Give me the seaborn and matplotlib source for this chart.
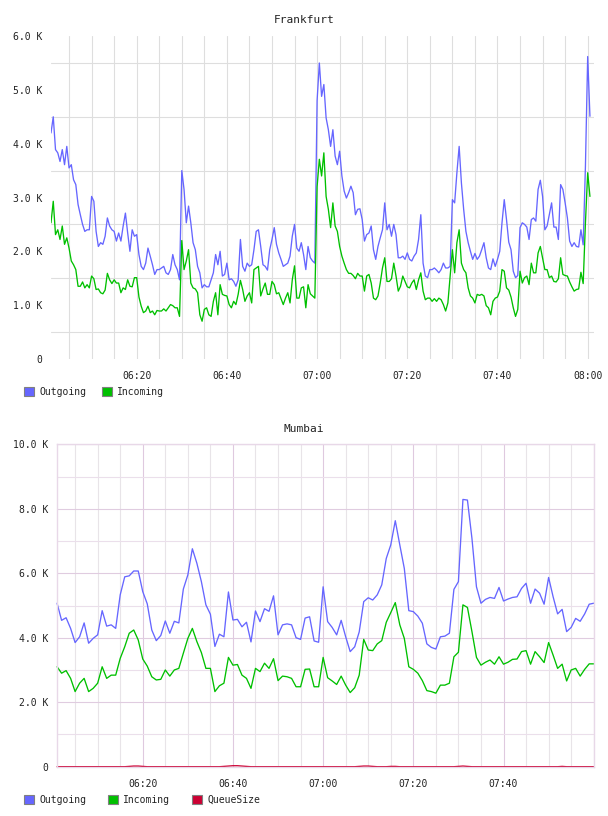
import pandas as pd
import matplotlib
matplotlib.use('Agg')
import matplotlib.pyplot as plt
import matplotlib.dates as mdates
from matplotlib.patches import Patch
from matplotlib.ticker import FuncFormatter, FixedLocator
import seaborn as sns

# 값은 K(천) 단위
day = '2015-06-01'

# Frankfurt : 30초 간격, 06:01 부터
fra_start = day + ' 06:01:00'
fra_step = '30s'
fra_outgoing = [
    4.20, 4.50, 3.89, 3.83, 3.67, 3.89, 3.61, 3.95, 3.55, 3.61,
    3.33, 3.24, 2.87, 2.68, 2.50, 2.37, 2.40, 2.40, 3.02, 2.93,
    2.37, 2.09, 2.16, 2.13, 2.28, 2.62, 2.47, 2.40, 2.37, 2.19,
    2.34, 2.19, 2.47, 2.71, 2.34, 2.00, 2.40, 2.28, 2.31, 1.94,
    1.72, 1.66, 1.78, 2.06, 1.91, 1.75, 1.57, 1.66, 1.66, 1.69,
    1.72, 1.60, 1.57, 1.66, 1.94, 1.75, 1.66, 1.47, 3.50, 3.15,
    2.53, 2.84, 2.53, 2.16, 2.03, 1.72, 1.60, 1.32, 1.38, 1.34,
    1.34, 1.47, 1.60, 1.94, 1.75, 2.00, 1.54, 1.57, 1.78, 1.47,
    1.49, 1.44, 1.35, 1.47, 2.22, 1.72, 1.63, 1.78, 1.72, 1.75,
    2.03, 2.37, 2.40, 2.09, 1.75, 1.72, 1.65, 2.03, 2.22, 2.44,
    2.13, 1.97, 1.85, 1.72, 1.75, 1.78, 1.91, 2.28, 2.50, 2.06,
    2.00, 2.16, 1.94, 1.66, 2.09, 1.88, 1.82, 1.78, 4.80, 5.50,
    4.88, 5.10, 4.48, 4.26, 3.95, 4.26, 3.77, 3.61, 3.86, 3.40,
    3.12, 2.99, 3.09, 3.21, 3.09, 2.68, 2.78, 2.79, 2.59, 2.19,
    2.31, 2.34, 2.47, 2.03, 1.85, 2.09, 2.25, 2.40, 2.90, 2.40,
    2.50, 2.28, 2.50, 2.31, 1.88, 1.88, 1.91, 1.85, 1.97, 1.85,
    1.82, 1.91, 1.97, 2.22, 2.68, 1.78, 1.54, 1.51, 1.66, 1.66,
    1.69, 1.65, 1.60, 1.66, 1.78, 1.69, 1.69, 1.72, 2.96, 2.90,
    3.46, 3.95, 3.27, 2.78, 2.37, 2.16, 2.00, 1.85, 1.96, 1.85,
    1.91, 2.03, 2.16, 1.88, 1.69, 1.66, 1.86, 1.72, 1.85, 2.00,
    2.53, 2.96, 2.59, 2.17, 2.03, 1.63, 1.51, 1.55, 2.44, 2.53,
    2.50, 2.45, 2.22, 2.59, 2.62, 2.56, 3.15, 3.32, 3.02, 2.40,
    2.47, 2.68, 2.90, 2.45, 2.45, 2.22, 3.24, 3.15, 2.90, 2.62,
    2.19, 2.09, 2.16, 2.09, 2.08, 2.40, 2.12, 3.58, 5.62, 4.51,
]
fra_incoming = [
    2.53, 2.93, 2.31, 2.40, 2.22, 2.47, 2.13, 2.25, 2.06, 1.82,
    1.75, 1.66, 1.35, 1.35, 1.43, 1.32, 1.38, 1.32, 1.54, 1.49,
    1.29, 1.30, 1.23, 1.21, 1.28, 1.59, 1.47, 1.40, 1.47, 1.41,
    1.41, 1.23, 1.32, 1.29, 1.47, 1.35, 1.34, 1.51, 1.51, 1.15,
    0.98, 0.86, 0.89, 0.98, 0.86, 0.89, 0.82, 0.90, 0.89, 0.89,
    0.93, 0.89, 0.95, 1.01, 0.99, 0.95, 0.95, 0.79, 2.20, 1.66,
    1.82, 2.03, 1.41, 1.32, 1.30, 1.23, 0.82, 0.70, 0.92, 0.95,
    0.82, 0.79, 1.07, 1.23, 0.82, 1.38, 1.20, 1.18, 1.17, 1.01,
    0.95, 1.07, 1.01, 1.20, 1.46, 1.29, 1.07, 1.17, 1.23, 1.04,
    1.66, 1.69, 1.72, 1.17, 1.30, 1.41, 1.20, 1.20, 1.44, 1.38,
    1.21, 1.23, 1.12, 1.01, 1.13, 1.23, 1.04, 1.47, 1.73, 1.13,
    1.13, 1.32, 1.34, 0.95, 1.38, 1.21, 1.17, 1.13, 3.20, 3.71,
    3.40, 3.83, 3.02, 2.78, 2.44, 2.90, 2.47, 2.37, 2.09, 1.91,
    1.78, 1.66, 1.59, 1.59, 1.55, 1.49, 1.59, 1.54, 1.54, 1.26,
    1.54, 1.57, 1.41, 1.13, 1.10, 1.17, 1.41, 1.69, 1.88, 1.44,
    1.44, 1.49, 1.78, 1.54, 1.26, 1.35, 1.54, 1.44, 1.34, 1.32,
    1.41, 1.47, 1.29, 1.47, 1.60, 1.26, 1.10, 1.13, 1.13, 1.07,
    1.12, 1.07, 1.13, 1.10, 1.01, 0.89, 1.04, 1.54, 2.03, 1.60,
    2.16, 2.40, 1.78, 1.66, 1.60, 1.32, 1.17, 1.13, 1.04, 1.20,
    1.18, 1.20, 1.17, 0.99, 0.95, 0.82, 1.07, 1.13, 1.15, 1.26,
    1.66, 1.63, 1.32, 1.28, 1.15, 0.95, 0.79, 0.92, 1.63, 1.41,
    1.51, 1.54, 1.38, 1.78, 1.60, 1.60, 1.97, 2.09, 1.88, 1.66,
    1.66, 1.51, 1.54, 1.44, 1.43, 1.49, 1.88, 1.57, 1.55, 1.54,
    1.43, 1.34, 1.26, 1.29, 1.30, 1.61, 1.40, 2.53, 3.46, 3.02,
]
fra_ticks = ['06:20', '06:40', '07:00', '07:20', '07:40', '08:00']

# Mumbai : 1분 간격, 06:01 부터
mum_start = day + ' 06:01:00'
mum_step = '1min'
mum_outgoing = [
    5.07, 4.54, 4.62, 4.29, 3.85, 4.03, 4.46, 3.83, 3.98, 4.09,
    4.84, 4.36, 4.40, 4.29, 5.33, 5.89, 5.92, 6.07, 6.07, 5.43,
    5.05, 4.24, 3.91, 4.07, 4.52, 4.14, 4.51, 4.46, 5.51, 5.95,
    6.76, 6.31, 5.74, 5.02, 4.73, 3.73, 4.11, 4.03, 5.42, 4.55,
    4.57, 4.34, 4.48, 3.87, 4.83, 4.50, 4.90, 4.82, 5.30, 4.09,
    4.40, 4.43, 4.40, 4.00, 3.95, 4.61, 4.65, 3.90, 3.86, 5.58,
    4.50, 4.32, 4.09, 4.54, 4.03, 3.57, 3.72, 4.18, 5.12, 5.24,
    5.17, 5.33, 5.64, 6.46, 6.88, 7.63, 6.88, 6.15, 4.84, 4.81,
    4.67, 4.45, 3.81, 3.70, 3.65, 4.03, 4.05, 4.14, 5.50, 5.74,
    8.29, 8.27, 7.08, 5.58, 5.07, 5.19, 5.25, 5.22, 5.56, 5.14,
    5.20, 5.25, 5.27, 5.53, 5.69, 5.07, 5.51, 5.38, 5.04, 5.87,
    5.27, 4.74, 4.88, 4.19, 4.32, 4.60, 4.51, 4.74, 5.04, 5.07,
]
mum_incoming = [
    3.10, 2.90, 2.98, 2.74, 2.33, 2.59, 2.74, 2.33, 2.43, 2.59,
    3.10, 2.74, 2.84, 2.84, 3.36, 3.72, 4.14, 4.24, 3.93, 3.34,
    3.12, 2.79, 2.69, 2.71, 3.00, 2.81, 3.00, 3.05, 3.52, 3.98,
    4.29, 3.88, 3.54, 3.05, 3.05, 2.33, 2.51, 2.59, 3.39, 3.15,
    3.17, 2.84, 2.74, 2.43, 3.05, 2.95, 3.21, 3.05, 3.35, 2.67,
    2.81, 2.79, 2.74, 2.48, 2.48, 3.02, 3.03, 2.48, 2.48, 3.39,
    2.76, 2.66, 2.55, 2.81, 2.53, 2.30, 2.45, 2.84, 3.95, 3.62,
    3.60, 3.81, 3.91, 4.48, 4.78, 5.09, 4.40, 3.98, 3.10, 3.02,
    2.90, 2.67, 2.36, 2.33, 2.28, 2.53, 2.53, 2.59, 3.41, 3.55,
    5.02, 4.94, 4.19, 3.39, 3.15, 3.24, 3.31, 3.18, 3.41, 3.18,
    3.24, 3.33, 3.34, 3.57, 3.60, 3.18, 3.57, 3.41, 3.23, 3.85,
    3.46, 3.05, 3.18, 2.66, 3.00, 3.05, 2.81, 3.02, 3.19, 3.19,
]
mum_queuesize = [
    0.00, 0.00, 0.00, 0.00, 0.00, 0.00, 0.00, 0.00, 0.00, 0.00,
    0.00, 0.00, 0.00, 0.00, 0.00, 0.00, 0.01, 0.02, 0.02, 0.01,
    0.00, 0.00, 0.00, 0.00, 0.00, 0.00, 0.00, 0.00, 0.00, 0.00,
    0.00, 0.00, 0.00, 0.00, 0.00, 0.00, 0.00, 0.01, 0.02, 0.03,
    0.03, 0.02, 0.01, 0.00, 0.00, 0.00, 0.00, 0.00, 0.00, 0.00,
    0.00, 0.00, 0.00, 0.00, 0.00, 0.00, 0.00, 0.00, 0.00, 0.00,
    0.00, 0.00, 0.00, 0.00, 0.00, 0.00, 0.00, 0.01, 0.02, 0.02,
    0.01, 0.00, 0.00, 0.00, 0.01, 0.01, 0.00, 0.00, 0.00, 0.00,
    0.00, 0.00, 0.00, 0.00, 0.00, 0.00, 0.00, 0.00, 0.00, 0.01,
    0.02, 0.01, 0.00, 0.00, 0.00, 0.00, 0.00, 0.00, 0.00, 0.00,
    0.00, 0.00, 0.00, 0.00, 0.00, 0.00, 0.00, 0.00, 0.00, 0.00,
    0.00, 0.00, 0.01, 0.00, 0.00, 0.00, 0.00, 0.00, 0.00, 0.00,
]
mum_ticks = ['06:20', '06:40', '07:00', '07:20', '07:40']

colors = {'Outgoing': '#6666ff', 'Incoming': '#00c000', 'QueueSize': '#cc0033'}


def make_frame(start, step, series):
    t = pd.date_range(start, periods=len(series[0][1]), freq=step)
    parts = [pd.DataFrame({'time': t, 'value': v, 'series': n}) for n, v in series]
    return pd.concat(parts, ignore_index=True)


fra = make_frame(fra_start, fra_step,
                 [('Outgoing', fra_outgoing), ('Incoming', fra_incoming)])
mum = make_frame(mum_start, mum_step,
                 [('Outgoing', mum_outgoing), ('Incoming', mum_incoming),
                  ('QueueSize', mum_queuesize)])

sns.set_style('white')
plt.rcParams['font.family'] = ['DejaVu Sans Mono']
plt.rcParams['font.size'] = 7
text_color = '#222222'


def k_fmt(v, pos):
    return '0' if abs(v) < 1e-9 else '%.1f K' % v


def to_num(labels):
    return [mdates.date2num(pd.Timestamp(day + ' ' + s).to_pydatetime()) for s in labels]


fig = plt.figure(figsize=(6.08, 8.16), dpi=100)
ax1 = fig.add_axes([51 / 608, 1 - 358.9 / 816, 543 / 608, 322.8 / 816])
ax2 = fig.add_axes([56.7 / 608, 1 - 766.7 / 816, 537 / 608, 322.4 / 816])

# Frankfurt
sns.lineplot(data=fra, x='time', y='value', hue='series', palette=colors,
             estimator=None, linewidth=0.95, legend=False, ax=ax1)
ax1.set_xlim(pd.Timestamp(day + ' 06:01:00'), pd.Timestamp(day + ' 08:01:24'))
ax1.set_ylim(0, 6)
ax1.set_xticks(to_num(fra_ticks))
ax1.set_xticklabels(fra_ticks)
ax1.xaxis.set_minor_locator(mdates.MinuteLocator(byminute=range(0, 60, 5)))
ax1.yaxis.set_major_locator(FixedLocator([0, 1, 2, 3, 4, 5, 6]))
ax1.yaxis.set_minor_locator(FixedLocator([0.5, 1.5, 2.5, 3.5, 4.5, 5.5]))
ax1.yaxis.set_major_formatter(FuncFormatter(k_fmt))
ax1.grid(False)
ax1.yaxis.grid(True, which='minor', color='#dedede', linewidth=0.8)
ax1.xaxis.grid(True, which='both', color='#dedede', linewidth=0.8)
for s in ax1.spines.values():
    s.set_visible(False)

# Mumbai
sns.lineplot(data=mum, x='time', y='value', hue='series', palette=colors,
             estimator=None, linewidth=0.95, legend=False, ax=ax2)
ax2.set_xlim(pd.Timestamp(day + ' 06:00:55'), pd.Timestamp(day + ' 08:00:00'))
ax2.set_ylim(0, 10)
ax2.set_xticks(to_num(mum_ticks))
ax2.set_xticklabels(mum_ticks)
ax2.xaxis.set_minor_locator(mdates.MinuteLocator(byminute=range(0, 60, 5)))
ax2.yaxis.set_major_locator(FixedLocator([0, 2, 4, 6, 8, 10]))
ax2.yaxis.set_minor_locator(FixedLocator([1, 3, 5, 7, 9]))
ax2.yaxis.set_major_formatter(FuncFormatter(k_fmt))
ax2.grid(False)
ax2.yaxis.grid(True, which='major', color='#e0cce0', linewidth=0.8)
ax2.yaxis.grid(True, which='minor', color='#ebdfeb', linewidth=0.8)
ax2.xaxis.grid(True, which='major', color='#dfc9df', linewidth=0.8)
ax2.xaxis.grid(True, which='minor', color='#e8e4e8', linewidth=0.8)
for s in ax2.spines.values():
    s.set_visible(True)
    s.set_color('#e8d8e8')
    s.set_linewidth(1.0)
for line in ax2.lines:
    line.set_clip_on(False)

for ax in (ax1, ax2):
    ax.set_axisbelow(True)
    ax.set_xlabel('')
    ax.set_ylabel('')
    ax.tick_params(axis='both', which='both', length=0, labelsize=7, colors=text_color)
    ax.tick_params(axis='x', pad=9)
    ax.tick_params(axis='y', pad=6)

fig.text(0.5, 1 - 20 / 816, 'Frankfurt', ha='center', va='center', fontsize=8, color=text_color)
fig.text(0.5, 1 - 429 / 816, 'Mumbai', ha='center', va='center', fontsize=8, color=text_color)


def legend_at(names, y_px, colspace):
    handles = [Patch(facecolor=colors[n], edgecolor='#808080', linewidth=0.8, label=n) for n in names]
    fig.legend(handles=handles, loc='center left', bbox_to_anchor=(24 / 608, 1 - y_px / 816),
               ncol=len(names), frameon=False, fontsize=7, handlelength=1.05, handleheight=1.05,
               handletextpad=0.5, columnspacing=colspace, borderpad=0, borderaxespad=0,
               labelcolor=text_color)


legend_at(['Outgoing', 'Incoming'], 392, 1.65)
legend_at(['Outgoing', 'Incoming', 'QueueSize'], 800, 2.26)

fig.savefig('out.png', dpi=100)
print('out.png saved')
